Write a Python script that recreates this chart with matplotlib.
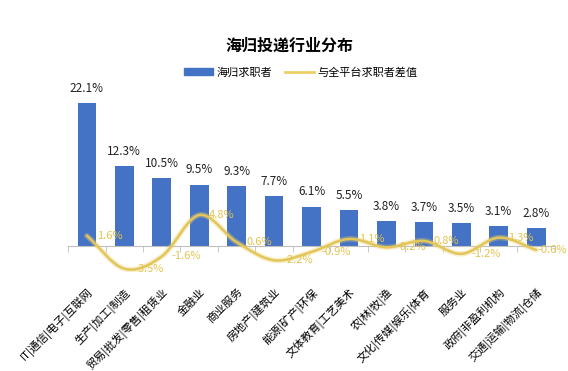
import matplotlib
matplotlib.use("Agg")
import matplotlib.pyplot as plt
import numpy as np
from matplotlib.patches import Patch
from matplotlib.lines import Line2D

plt.rcParams['font.family'] = ['Noto Sans CJK SC', 'DejaVu Sans']

categories = ["IT|通信|电子|互联网", "生产|加工|制造", "贸易|批发|零售|租赁业", "金融业", "商业服务",
              "房地产|建筑业", "能源|矿产|环保", "文体教育|工艺美术", "农|林|牧|渔",
              "文化|传媒|娱乐|体育", "服务业", "政府|非盈利机构", "交通|运输|物流|仓储"]
share = [22.1, 12.3, 10.5, 9.5, 9.3, 7.7, 6.1, 5.5, 3.8, 3.7, 3.5, 3.1, 2.8]
diff = [1.6, -3.5, -1.6, 4.8, 0.6, -2.2, -0.9, 1.1, -0.2, 0.8, -1.2, 1.3, -0.6]

bar_color = '#4472C4'
line_color = '#EDD065'
label_yellow = '#E3C450'

fig = plt.figure(figsize=(5.68, 3.71), dpi=100)
ax = fig.add_axes([0.120, 0.267, 0.857, 0.4885])

x = np.arange(len(categories))
ax.bar(x, share, width=0.5, color=bar_color, zorder=2)
for xi, v in zip(x, share):
    ax.annotate(f"{v}%", (xi, v), xytext=(0, 6), textcoords='offset points',
                ha='center', va='bottom', fontsize=8.5, color='#222222')

# smooth curve through diff points (Catmull-Rom style)
def smooth(xs, ys, n=20):
    xs = np.asarray(xs, float); ys = np.asarray(ys, float)
    px = np.concatenate([[2*xs[0]-xs[1]], xs, [2*xs[-1]-xs[-2]]])
    py = np.concatenate([[2*ys[0]-ys[1]], ys, [2*ys[-1]-ys[-2]]])
    ox, oy = [], []
    for i in range(1, len(px)-2):
        t = np.linspace(0, 1, n, endpoint=False)
        for arr, out in ((px, ox), (py, oy)):
            p0, p1, p2, p3 = arr[i-1], arr[i], arr[i+1], arr[i+2]
            out.extend(0.5*((2*p1) + (-p0+p2)*t + (2*p0-5*p1+4*p2-p3)*t**2 + (-p0+3*p1-3*p2+p3)*t**3))
    ox.append(xs[-1]); oy.append(ys[-1])
    return np.array(ox), np.array(oy)

sx, sy = smooth(x, diff)
ax.plot(sx, sy, color=line_color, lw=4, alpha=0.35, zorder=3, solid_capstyle='round')
ax.plot(sx, sy, color='#E2C65A', lw=1.8, zorder=4, solid_capstyle='round')
for i, (xi, v) in enumerate(zip(x, diff)):
    dx = 1 if i == len(diff) - 1 else 7
    ax.annotate(f"{v}%", (xi, v), xytext=(dx, 0), textcoords='offset points',
                ha='left', va='center', fontsize=8, color=label_yellow, zorder=5,
                annotation_clip=False)

ax.set_xlim(-0.5, len(categories) - 0.5)
ax.set_ylim(-4, 24)
for s in ['top', 'right', 'left']:
    ax.spines[s].set_visible(False)
ax.spines['bottom'].set_position(('data', 0))
ax.spines['bottom'].set_color('#BFBFBF')
ax.set_yticks([])
ax.set_xticks(x)
ax.set_xticklabels(categories, rotation=45, ha='right', rotation_mode='anchor', fontsize=8)
ax.tick_params(axis='x', which='major', length=0, pad=29)
ax.set_xticks(np.arange(-0.5, len(categories), 1.0), minor=True)
ax.tick_params(axis='x', which='minor', length=4, color='#BFBFBF')

fig.text(0.51, 0.878, "海归投递行业分布", ha='center', va='center', fontsize=11.5, fontweight='bold')
handles = [Patch(color=bar_color), Line2D([0], [0], color=line_color, lw=2)]
fig.legend(handles, ["海归求职者", "与全平台求职者差值"], loc='center', bbox_to_anchor=(0.53, 0.805),
           ncol=2, frameon=False, fontsize=8, handlelength=2.6, handleheight=0.5, columnspacing=1.2,
           handletextpad=0.3)

fig.savefig("out.png", dpi=100)
